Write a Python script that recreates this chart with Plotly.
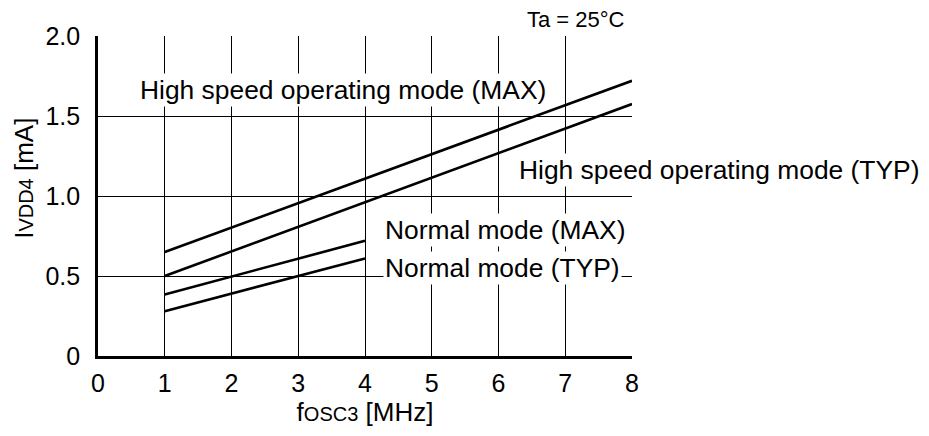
import plotly.graph_objects as go

# Data
high_x = [1, 8]
high_max = [0.65, 1.72]
high_typ = [0.50, 1.575]
norm_x = [1, 4]
norm_max = [0.385, 0.72]
norm_typ = [0.28, 0.61]

x_ticks = [0, 1, 2, 3, 4, 5, 6, 7, 8]
y_ticks = [0, 0.5, 1.0, 1.5, 2.0]
y_ticktext = ["0", "0.5", "1.0", "1.5", "2.0"]

FONT = "Liberation Sans, Arial, sans-serif"
LW = 2.6

fig = go.Figure()
for xs, ys, name in [(high_x, high_max, "High MAX"), (high_x, high_typ, "High TYP"),
                     (norm_x, norm_max, "Normal MAX"), (norm_x, norm_typ, "Normal TYP")]:
    fig.add_trace(go.Scatter(x=xs, y=ys, mode="lines", name=name,
                             line=dict(color="black", width=LW), showlegend=False))

labels = [
    ("High speed operating mode (MAX)", 0.6, 1.665),
    ("High speed operating mode (TYP)", 6.27, 1.165),
    ("Normal mode (MAX)", 4.27, 0.79),
    ("Normal mode (TYP)", 4.27, 0.55),
]
for text, x, y in labels:
    fig.add_annotation(x=x, y=y, xref="x", yref="y", text=text, showarrow=False,
                       xanchor="left", yanchor="middle", bgcolor="white", borderpad=1,
                       font=dict(family=FONT, size=26.4, color="black"))

fig.add_annotation(x=0.991, y=1.05, xref="paper", yref="paper", text="Ta = 25°C",
                   showarrow=False, xanchor="right", yanchor="middle",
                   font=dict(family=FONT, size=22, color="black"))

# y-axis title as annotation (positioned like the reference)
fig.add_annotation(x=-0.139, y=0.556, xref="paper", yref="paper",
                   text="I<span style='font-size:20px'>VDD4</span> [mA]", textangle=-90,
                   showarrow=False, xanchor="center", yanchor="middle",
                   font=dict(family=FONT, size=26, color="black"))

fig.update_layout(
    width=921, height=428,
    margin=dict(l=90, r=297, t=28, b=80),
    paper_bgcolor="white", plot_bgcolor="white",
    font=dict(family=FONT, color="black"),
)
fig.update_xaxes(range=[0, 8], tickvals=x_ticks, showgrid=True, gridcolor="black", gridwidth=1,
                 showline=True, linecolor="black", linewidth=LW, zeroline=False, automargin=False,
                 tickfont=dict(family=FONT, size=25, color="black"), ticklabelstandoff=3,
                 title=dict(text="f<span style='font-size:20px'>OSC3</span> [MHz]",
                            font=dict(family=FONT, size=26, color="black"), standoff=8))
fig.update_yaxes(range=[0, 2], tickvals=y_ticks, ticktext=y_ticktext, showgrid=True,
                 gridcolor="black", gridwidth=1, automargin=False,
                 showline=True, linecolor="black", linewidth=LW, zeroline=False,
                 tickfont=dict(family=FONT, size=25, color="black"), ticklabelstandoff=10)

fig.write_html("out.html")
